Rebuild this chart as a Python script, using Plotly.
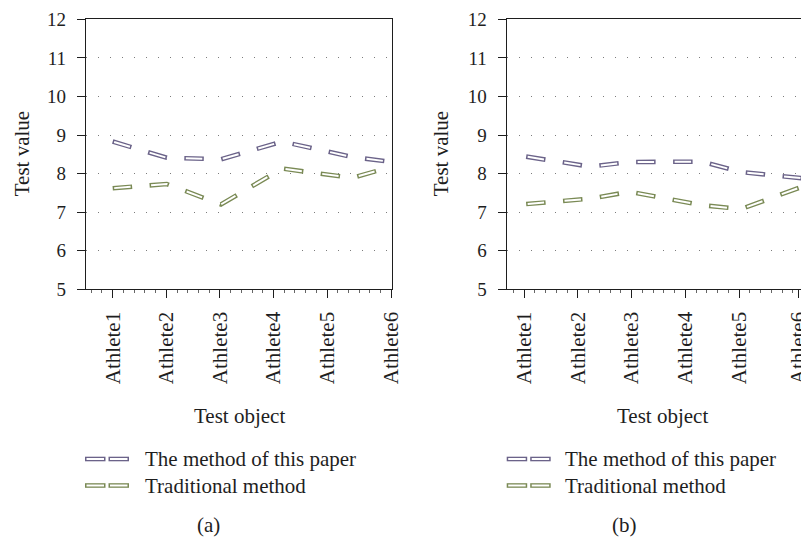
import plotly.graph_objects as go

# ---------------- data ----------------
categories = ["Athlete1", "Athlete2", "Athlete3", "Athlete4", "Athlete5", "Athlete6"]
series_names = ["The method of this paper", "Traditional method"]

# panel (a)
a_x = [1.0, 2.01, 3.02, 4.16, 5.47, 6.21]
a_paper = [8.83, 8.41, 8.37, 8.83, 8.43, 8.30]
a_trad = [7.62, 7.73, 7.20, 8.13, 7.89, 8.18]

# panel (b)
b_x = [1.04, 2.23, 2.97, 4.31, 5.04, 6.37]
b_paper = [8.44, 8.18, 8.30, 8.31, 8.04, 7.85]
b_trad = [7.21, 7.35, 7.53, 7.18, 7.08, 7.76]

y_ticks = [5, 6, 7, 8, 9, 10, 11, 12]

# ---------------- layout / style ----------------
W, H = 801, 539
FONT = "Liberation Serif, Times New Roman, DejaVu Serif, serif"
INK = "#1e1e1e"
PURPLE = "#6b6389"
GREEN = "#7a8a55"
OUTER_W, INNER_W = 4.6, 2.0
OUTER_DASH = "19.5px,17.5px"
INNER_DASH = "0px,1.5px,16.5px,19px"

a_tickpos = [1, 2, 3, 4, 5, 6.205]
b_tickpos = [1, 2, 3, 4, 5, 6.10]


def px(x):
    return x / W


def py(y):
    return 1 - y / H


fig = go.Figure()


def add_hollow(xs, ys, color, xa, ya):
    fig.add_trace(go.Scatter(x=xs, y=ys, mode="lines", xaxis=xa, yaxis=ya,
                             line=dict(color=color, width=OUTER_W, dash=OUTER_DASH),
                             showlegend=False, hoverinfo="skip"))
    fig.add_trace(go.Scatter(x=xs, y=ys, mode="lines", xaxis=xa, yaxis=ya,
                             line=dict(color="white", width=INNER_W, dash=INNER_DASH),
                             showlegend=False, hoverinfo="skip"))


add_hollow(a_x, a_paper, PURPLE, "x", "y")
add_hollow(a_x, a_trad, GREEN, "x", "y")
add_hollow(b_x, b_paper, PURPLE, "x2", "y2")
add_hollow(b_x, b_trad, GREEN, "x2", "y2")

ydom = [py(289.3), py(19.3)]

common_x = dict(
    showline=True, linecolor=INK, linewidth=1.3,
    ticks="outside", ticklen=8, tickwidth=1.3, tickcolor=INK,
    tickmode="array", ticktext=categories, tickangle=-90,
    tickfont=dict(family=FONT, size=21, color=INK),
    ticklabelstandoff=5, ticklabeloverflow="allow",
    showgrid=False, zeroline=False,
    minor=dict(ticks="outside", ticklen=2.5, tickwidth=1, tickcolor="#666", dtick=0.2, tick0=1),
)
common_y = dict(
    range=[5, 12], tickmode="array", tickvals=y_ticks, ticktext=[str(v) for v in y_ticks],
    showline=True, linecolor=INK, linewidth=1.3,
    ticks="outside", ticklen=8, tickwidth=1.3, tickcolor=INK,
    tickfont=dict(family=FONT, size=19, color=INK),
    ticklabelstandoff=7,
    showgrid=True, gridcolor="#7c7c7c", gridwidth=1.4, griddash="1.4px,10.6px",
    zeroline=False, domain=ydom,
)

fig.update_layout(
    width=W, height=H, margin=dict(l=0, r=0, t=0, b=0),
    template="none", paper_bgcolor="white", plot_bgcolor="white",
    showlegend=False,
    xaxis=dict(common_x, domain=[px(86), px(392)], range=[0.502, 6.212],
               tickvals=a_tickpos, mirror=True, anchor="y"),
    yaxis=dict(common_y, mirror=True, anchor="x"),
    xaxis2=dict(common_x, domain=[px(506.7), 1.0], range=[0.678, 6.153],
                tickvals=b_tickpos, mirror=True, anchor="y2"),
    yaxis2=dict(common_y, mirror=False, anchor="x2"),
)

ann_font = dict(family=FONT, size=21, color=INK)
annotations = []
for xt, xo, xc, lbl in [(22, 239, 208, "(a)"), (441, 662, 624, "(b)")]:
    annotations.append(dict(text="Test value", textangle=-90, x=px(xt), y=py(154.3),
                            xref="paper", yref="paper", showarrow=False,
                            xanchor="center", yanchor="middle", font=ann_font))
    annotations.append(dict(text="Test object", x=px(xo), y=py(416),
                            xref="paper", yref="paper", showarrow=False,
                            xanchor="center", yanchor="middle", font=ann_font))
    annotations.append(dict(text=lbl, x=px(xc), y=py(525),
                            xref="paper", yref="paper", showarrow=False,
                            xanchor="center", yanchor="middle", font=ann_font))

shapes = []
legend_rows = [(459, series_names[0], PURPLE), (485.5, series_names[1], GREEN)]
for sx, tx in [(85, 142.7), (506.7, 563.3)]:
    for ry, name, col in legend_rows:
        for seg in [(sx, sx + 20.5), (sx + 23.5, sx + 44)]:
            shapes.append(dict(type="line", xref="paper", yref="paper",
                               x0=px(seg[0]), x1=px(seg[1]), y0=py(ry), y1=py(ry),
                               line=dict(color=col, width=OUTER_W)))
            shapes.append(dict(type="line", xref="paper", yref="paper",
                               x0=px(seg[0] + 1.5), x1=px(seg[1] - 1.5), y0=py(ry), y1=py(ry),
                               line=dict(color="white", width=INNER_W)))
        annotations.append(dict(text=name, x=px(tx), y=py(ry), xref="paper", yref="paper",
                                showarrow=False, xanchor="left", yanchor="middle", font=ann_font))

fig.update_layout(annotations=annotations, shapes=shapes)
fig.write_html("out.html")
